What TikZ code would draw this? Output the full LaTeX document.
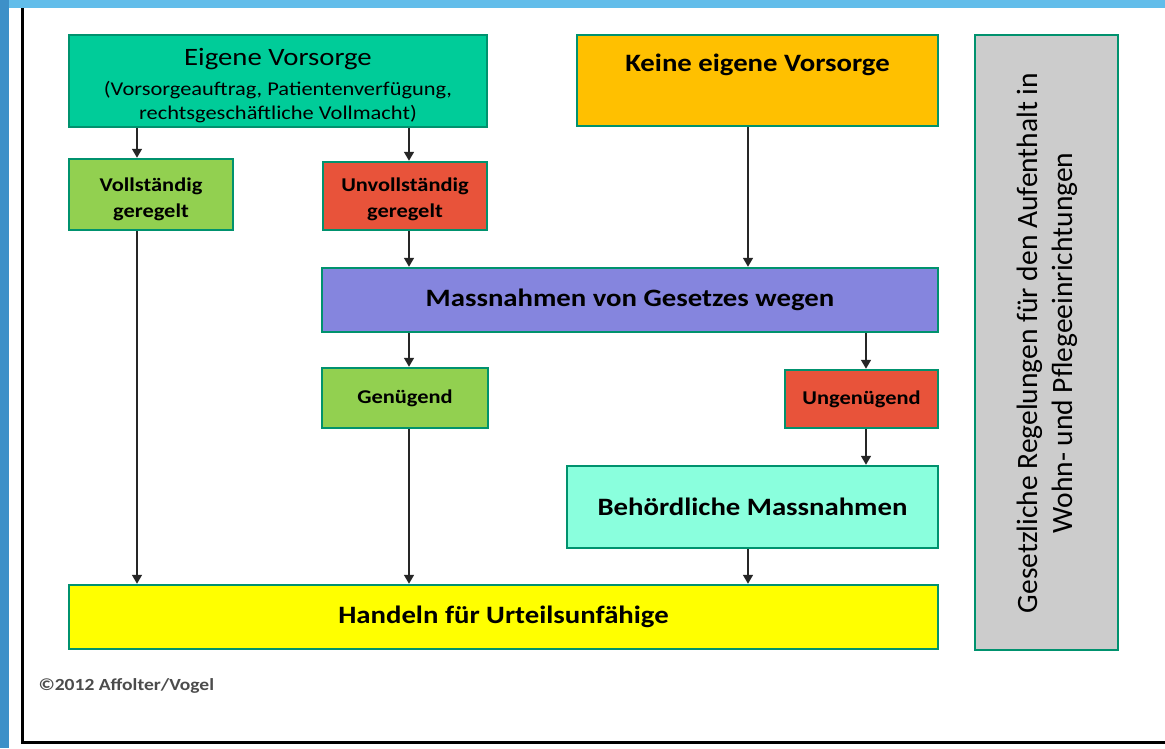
\documentclass[tikz,border=0pt]{standalone}
\usepackage{fontspec}
\setmainfont{Carlito}[FakeStretch=1.15]
\newfontfamily\hochfont{Carlito}
\usetikzlibrary{arrows.meta}

\definecolor{rahmen}{HTML}{00926E}
\definecolor{tuerkis}{HTML}{00CC99}
\definecolor{orange}{HTML}{FFC000}
\definecolor{hellgruen}{HTML}{92D050}
\definecolor{rot}{HTML}{E8533A}
\definecolor{lila}{HTML}{8585DE}
\definecolor{mint}{HTML}{8AFFDD}
\definecolor{gelb}{HTML}{FFFF00}
\definecolor{grau}{HTML}{CCCCCC}
\definecolor{blau}{HTML}{4FA8DC}
\definecolor{hellblau}{HTML}{62BDEA}
\definecolor{dunkelblau}{HTML}{3D90C8}

\begin{document}
\begin{tikzpicture}[x=1pt, y=-1pt,
  kasten/.style={draw=rahmen, line width=2.5pt, inner sep=0pt, align=center},
  klein/.style={font=\fontsize{19.5}{26}\selectfont\bfseries},
  gross/.style={font=\fontsize{25}{28}\selectfont\bfseries},
  pfeil/.style={draw=black!85, line width=1.6pt, -{Triangle[width=10pt,length=9pt]}}]
  \useasboundingbox (0,0) rectangle (1165,748);
  % Hintergrund
  \fill[blau] (0,0) rectangle (1165,748);
  \fill[hellblau] (0,0) rectangle (1165,8);
  \fill[dunkelblau] (0,0) rectangle (9,748);
  \fill[white] (9,8) rectangle (1165,748);
  \draw[line width=3pt] (22,8) -- (22,742) -- (1165,742);

  % Kaesten
  \node[kasten, fill=tuerkis, minimum width=418pt, minimum height=92pt,
    font=\fontsize{19.5}{24}\selectfont] (eigen) at (278,81)
    {{\fontsize{25}{28}\selectfont\rule{0pt}{26pt}Eigene Vorsorge}\\[6pt]
     (Vorsorgeauftrag, Patientenverfügung,\\ rechtsgeschäftliche Vollmacht)};
  \node[kasten, fill=orange, minimum width=361pt, minimum height=91pt] (keine) at (757.5,80.5) {};
  \node[gross] (keinetext) at (757.5,65) {Keine eigene Vorsorge};
  \node[kasten, klein, fill=hellgruen, minimum width=164pt, minimum height=71pt] (voll) at (151,194.5) {\rule{0pt}{23pt}Vollständig\\geregelt};
  \node[kasten, klein, fill=rot, minimum width=164pt, minimum height=68pt] (unvoll) at (405,196) {\rule{0pt}{21pt}Unvollständig\\geregelt};
  \node[kasten, gross, fill=lila, minimum width=616pt, minimum height=64pt] (gesetz) at (630,300) {Massnahmen von Gesetzes wegen};
  \node[kasten, klein, fill=hellgruen, minimum width=166pt, minimum height=60pt] (genug) at (405,398) {Genügend};
  \node[kasten, klein, fill=rot, minimum width=153pt, minimum height=58pt] (ungenug) at (861.5,399) {Ungenügend};
  \node[kasten, gross, fill=mint, minimum width=371pt, minimum height=82pt] (behoerde) at (752.5,507) {Behördliche Massnahmen};
  \node[kasten, gross, fill=gelb, minimum width=869pt, minimum height=64pt] (handeln) at (503.5,617) {Handeln für Urteilsunfähige};
  \node[kasten, fill=grau, minimum width=143pt, minimum height=615pt] (regeln) at (1046.5,342.5) {};
  \node[rotate=90, align=center, font=\hochfont\fontsize{29.5}{35}\selectfont] (regelntext) at (1047,343)
    {Gesetzliche Regelungen für den Aufenthalt in\\Wohn- und Pflegeeinrichtungen};
  \node[anchor=west, text=black!70, font=\fontsize{17}{19}\selectfont\bfseries] (copy) at (35,686) {©2012 Affolter/Vogel};

  % Spalten der Pfeile
  \coordinate (s1) at (137,0);
  \coordinate (s2) at (409,0);
  \coordinate (s3) at (748,0);
  \coordinate (s4) at (866,0);

  % Pfeile
  \draw[pfeil] (eigen.south -| s1) -- (voll.north -| s1);
  \draw[pfeil] (eigen.south -| s2) -- (unvoll.north -| s2);
  \draw[pfeil] (voll.south -| s1) -- (handeln.north -| s1);
  \draw[pfeil] (unvoll.south -| s2) -- (gesetz.north -| s2);
  \draw[pfeil] (keine.south -| s3) -- (gesetz.north -| s3);
  \draw[pfeil] (gesetz.south -| s2) -- (genug.north -| s2);
  \draw[pfeil] (gesetz.south -| s4) -- (ungenug.north -| s4);
  \draw[pfeil] (genug.south -| s2) -- (handeln.north -| s2);
  \draw[pfeil] (ungenug.south -| s4) -- (behoerde.north -| s4);
  \draw[pfeil] (behoerde.south -| s3) -- (handeln.north -| s3);
\end{tikzpicture}
\end{document}
